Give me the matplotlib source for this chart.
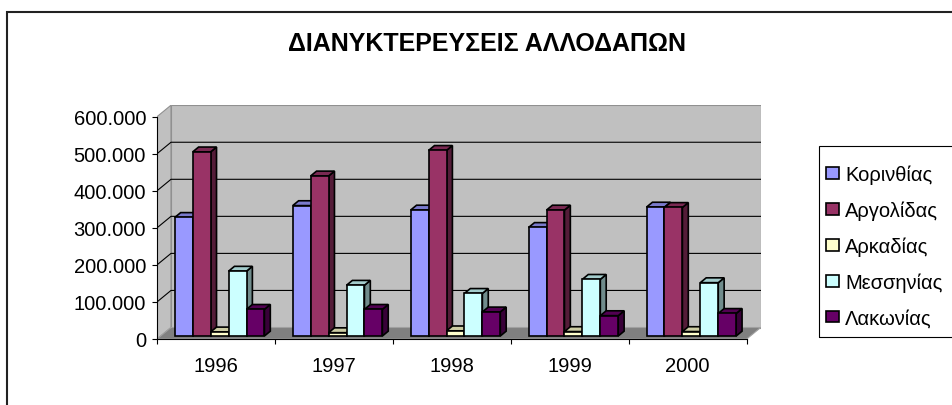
import numpy as np
import matplotlib
matplotlib.use('Agg')
import matplotlib.pyplot as plt
from matplotlib.patches import Polygon, Rectangle
from matplotlib.colors import to_rgb
from matplotlib.ticker import FuncFormatter

plt.rcParams['font.family'] = ['Liberation Sans', 'DejaVu Sans']

# Δεδομένα (διανυκτερεύσεις ανά νομό και έτος)
years = ['1996', '1997', '1998', '1999', '2000']
regions = ['Κορινθίας', 'Αργολίδας', 'Αρκαδίας', 'Μεσσηνίας', 'Λακωνίας']
korinthias = [320000, 352000, 340000, 293000, 348000]
argolidas = [497000, 432000, 501000, 340000, 347000]
arkadias = [11000, 9000, 14000, 12000, 12000]
messinias = [175000, 137000, 115000, 153000, 144000]
lakonias = [72000, 72000, 65000, 55000, 61000]
series = [korinthias, argolidas, arkadias, messinias, lakonias]
colors = ['#9999FF', '#993366', '#FFFFCC', '#CCFFFF', '#660066']
yticks = [0, 100000, 200000, 300000, 400000, 500000, 600000]
title = 'ΔΙΑΝΥΚΤΕΡΕΥΣΕΙΣ ΑΛΛΟΔΑΠΩΝ'

# Γεωμετρία σε pixel (εικόνα 953x406)
W, H = 953, 406
x0px, x1px = 157, 746.7
y0px, ytop = 340, 117.7
dxp, dyp = 14, 11.5

ncat = len(years)
ymax = yticks[-1]
DX = dxp * ncat / (x1px - x0px)
DY = dyp * ymax / (y0px - ytop)

fig = plt.figure(figsize=(W / 100, H / 100), dpi=100)
ax = fig.add_axes([x0px / W, (H - y0px) / H, (x1px - x0px + dxp) / W, (y0px - ytop + dyp) / H])
ax.set_xlim(0, ncat + DX)
ax.set_ylim(0, ymax + DY)
ax.patch.set_visible(False)

# Τοίχοι και δάπεδο
ax.add_patch(Polygon([(0, 0), (DX, DY), (DX, ymax + DY), (0, ymax)],
                     fc='#c0c0c0', ec='#909090', lw=0.8, zorder=0.5))
ax.add_patch(Rectangle((DX, DY), ncat, ymax, fc='#c0c0c0', ec='#909090', lw=0.8, zorder=0.5))
ax.add_patch(Polygon([(0, 0), (ncat, 0), (ncat + DX, DY), (DX, DY)],
                     fc='#808080', ec='#a0a0a0', lw=0.8, zorder=0.6))
for v in yticks[1:-1]:
    ax.plot([0, DX, ncat + DX], [v, v + DY, v + DY], color='black', lw=0.8, zorder=0.7)

# Ράβδοι με ψευδο-3Δ όψη
gap, bw, f, d = 0.12, 0.152, 0.26, 0.42
base = f * DY
handles = []
for j, vals in enumerate(series):
    xs = np.arange(ncat) + gap + j * bw + f * DX
    bars = ax.bar(xs, vals, width=bw, bottom=base, align='edge', color=colors[j],
                  edgecolor='black', lw=1.2, label=regions[j])
    handles.append(bars)
    rgb = np.array(to_rgb(colors[j]))
    for i, (rect, v) in enumerate(zip(bars, vals)):
        z = 2 + (i * len(series) + j) * 0.01
        rect.set_zorder(z + 0.005)
        x = rect.get_x()
        top = base + v
        side = [(x + bw, base), (x + bw + d * DX, base + d * DY),
                (x + bw + d * DX, top + d * DY), (x + bw, top)]
        cap = [(x, top), (x + d * DX, top + d * DY), (x + bw + d * DX, top + d * DY), (x + bw, top)]
        ax.add_patch(Polygon(side, fc=rgb * 0.55, ec='black', lw=1.2, zorder=z, joinstyle='miter'))
        ax.add_patch(Polygon(cap, fc=rgb * 0.8, ec='black', lw=1.2, zorder=z, joinstyle='miter'))

# Άξονες
ax.spines['top'].set_visible(False)
ax.spines['right'].set_visible(False)
ax.spines['left'].set_bounds(0, ymax)
ax.spines['bottom'].set_bounds(0, ncat)
ax.spines['left'].set_linewidth(0.8)
ax.spines['bottom'].set_linewidth(0.8)

ax.set_yticks(yticks)
ax.yaxis.set_major_formatter(FuncFormatter(lambda v, p: f'{v:,.0f}'.replace(',', '.')))
ax.tick_params(axis='y', direction='out', length=3.6, width=0.8, pad=4.3, labelsize=14.5)
ax.set_xticks(np.arange(ncat + 1), labels=[''] * (ncat + 1))
ax.set_xticks(np.arange(ncat) + 0.5, labels=years, minor=True)
ax.tick_params(axis='x', which='major', direction='out', length=3.6, width=0.8)
ax.tick_params(axis='x', which='minor', length=0, pad=12, labelsize=14.5)

# Τίτλος
fig.text(486.5 / W, (H - 50.7) / H, title, ha='center', va='baseline',
         fontsize=18, fontweight='bold')

# Υπόμνημα
fig.add_artist(Rectangle((819 / W, (H - 338) / H), (1000 - 819) / W, (338 - 147) / H,
                         transform=fig.transFigure, fill=False, ec='black', lw=0.8))
fig.legend(handles=handles, labels=regions, loc='upper left',
           bbox_to_anchor=(826 / W, (H - 165.5) / H), frameon=False, fontsize=14.5,
           handlelength=0.65, handleheight=0.5, handletextpad=0.3,
           labelspacing=0.82, borderpad=0, borderaxespad=0)

# Πλαίσιο γραφήματος
fig.add_artist(Rectangle((6.7 / W, -1), 2, 2 - 13.3 / H, transform=fig.transFigure,
                         fill=False, ec='#222222', lw=1.5))

fig.savefig('out.png', dpi=100)
